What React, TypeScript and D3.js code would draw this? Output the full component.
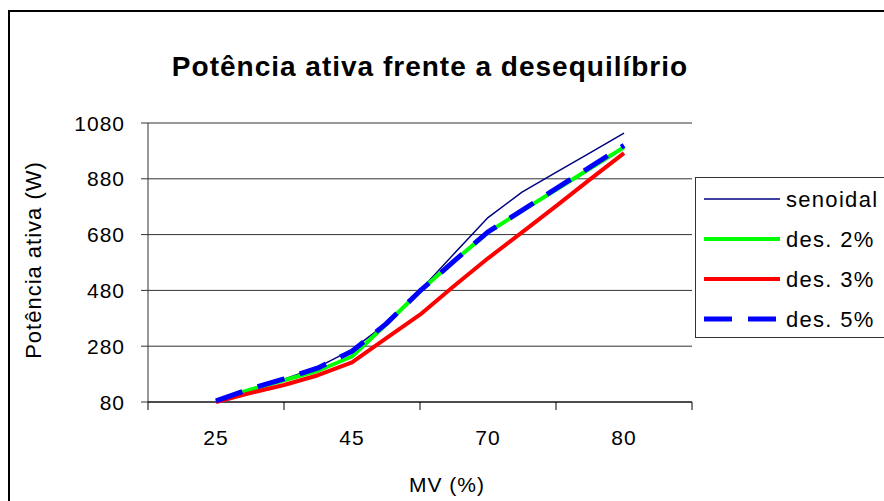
import React from "react";
import * as d3 from "d3";

const title = "Potência ativa frente a desequilíbrio";
const categories = ["25", "45", "70", "80"];
const yTicks = [80, 280, 480, 680, 880, 1080];
// sample positions along the category axis (category index units)
const positions = [0, 0.25, 0.5, 0.75, 1, 1.25, 1.5, 1.75, 2, 2.25, 2.5, 2.75, 3];
const senoidal = [85, 125, 162, 205, 268, 360, 480, 611, 741, 832, 903, 973, 1044];
const des2 = [84, 124, 158, 192, 243, 358, 478, 585, 688, 765, 841, 917, 993];
const des3 = [80, 112, 141, 176, 222, 308, 393, 496, 595, 688, 782, 878, 972];
const des5 = [84, 127, 163, 202, 262, 360, 478, 585, 690, 767, 845, 922, 1000];

const seriesNames = ["senoidal", "des. 2%", "des. 3%", "des. 5%"];
const seriesValues = [senoidal, des2, des3, des5];
const seriesColors = ["#000080", "#00ff00", "#ff0000", "#0000ff"];
const seriesWidths = [1.5, 4, 4, 5];
const seriesDash = [null, null, null, "28 16"];

export default function App() {
  const left = 148, right = 692, top = 123, bottom = 402;
  const x = d3.scaleLinear().domain([-0.5, categories.length - 0.5]).range([left, right]);
  const y = d3.scaleLinear().domain([80, 1080]).range([bottom, top]);
  const line = d3
    .line<number>()
    .x((_, i) => x(positions[i]))
    .y((d) => y(d));
  const font = "'Liberation Sans', Arial, sans-serif";
  const bandTicks = d3.range(categories.length + 1).map((i) => i - 0.5);

  return (
    <svg
      width={884}
      height={501}
      style={{ position: "absolute", left: 0, top: 0, background: "#fff" }}
      fontFamily={font}
    >
      <rect x={0} y={0} width={884} height={501} fill="#fff" />
      <rect x={9} y={11} width={900} height={520} fill="none" stroke="#000" strokeWidth={2} />
      <text
        x={430}
        y={76}
        textAnchor="middle"
        fontSize={28}
        fontWeight="bold"
        letterSpacing={1}
        fill="#000"
      >
        {title}
      </text>

      {/* gridlines */}
      {yTicks.map((t) => (
        <line key={"g" + t} x1={left - 7} x2={right} y1={y(t)} y2={y(t)} stroke="#333" strokeWidth={1} />
      ))}
      {/* y axis */}
      <line x1={left} x2={left} y1={top} y2={bottom} stroke="#333" strokeWidth={1} />
      {yTicks.map((t) => (
        <text
          key={"yl" + t}
          x={125}
          y={y(t)}
          dy="0.36em"
          textAnchor="end"
          fontSize={21}
          letterSpacing={1}
          fill="#000"
        >
          {t}
        </text>
      ))}
      {/* x axis */}
      <line x1={left} x2={right} y1={bottom} y2={bottom} stroke="#000" strokeWidth={1} />
      {bandTicks.map((b) => (
        <line key={"xt" + b} x1={x(b)} x2={x(b)} y1={bottom} y2={bottom + 8} stroke="#000" strokeWidth={1} />
      ))}
      {categories.map((c, i) => (
        <text
          key={"xl" + c}
          x={x(i)}
          y={445}
          textAnchor="middle"
          fontSize={21}
          letterSpacing={1}
          fill="#000"
        >
          {c}
        </text>
      ))}
      <text x={447} y={492} textAnchor="middle" fontSize={21} letterSpacing={1} fill="#000">
        MV (%)
      </text>
      <text
        transform="translate(41,260) rotate(-90)"
        textAnchor="middle"
        fontSize={22}
        letterSpacing={1}
        fill="#000"
      >
        Potência ativa (W)
      </text>

      {/* series */}
      {seriesValues.map((vals, s) => (
        <path
          key={"s" + s}
          d={line(vals) || ""}
          fill="none"
          stroke={seriesColors[s]}
          strokeWidth={seriesWidths[s]}
          strokeDasharray={seriesDash[s] || undefined}
          strokeLinejoin="round"
        />
      ))}

      {/* legend */}
      <rect x={695.5} y={177.5} width={300} height={160} fill="#fff" stroke="#333" strokeWidth={1} />
      {seriesNames.map((n, s) => {
        const ly = 199 + s * 40;
        return (
          <g key={"lg" + s}>
            <line
              x1={704}
              x2={780}
              y1={ly}
              y2={ly}
              stroke={seriesColors[s]}
              strokeWidth={seriesWidths[s]}
              strokeDasharray={seriesDash[s] || undefined}
            />
            <text x={786} y={ly} dy="0.36em" fontSize={22} letterSpacing={1.3} fill="#000">
              {n}
            </text>
          </g>
        );
      })}
    </svg>
  );
}
